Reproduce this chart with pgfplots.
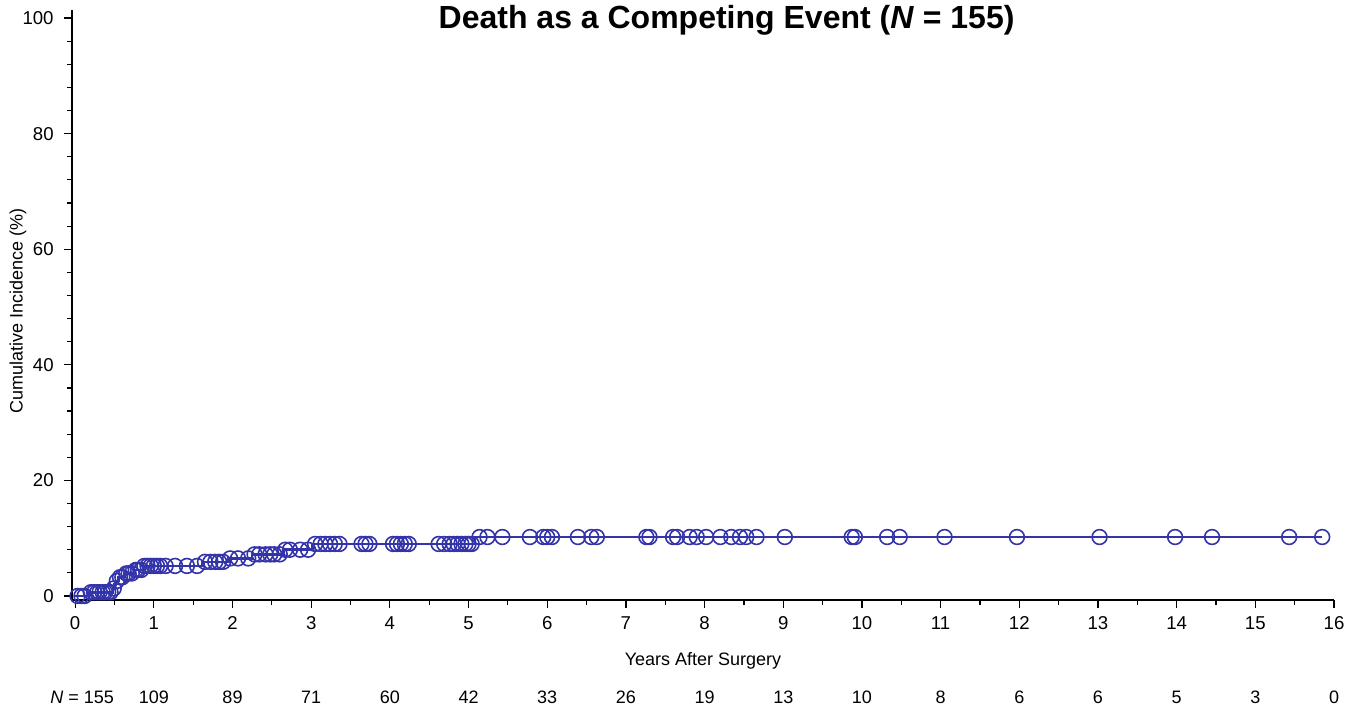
\documentclass[border=0pt]{standalone}
\usepackage{fontspec}
\setmainfont{Liberation Sans}
\usepackage{pgfplots}
\pgfplotsset{compat=1.18}
\definecolor{kmblue}{RGB}{51,51,170}

\begin{document}
\fontsize{9}{11}\selectfont
\begin{tikzpicture}
\useasboundingbox (0pt,0pt) rectangle (677pt,354.5pt);
\begin{axis}[
  at={(36pt,54.5pt)}, anchor=south west, scale only axis,
  width=631pt, height=295pt,
  xmin=-0.04, xmax=16, ymin=-0.7, ymax=101.4,
  axis x line*=bottom, axis y line*=left,
  axis line style={line width=0.9pt},
  every tick/.style={black, line width=0.6pt},
  tick align=outside,
  major tick length=4pt, minor tick length=2.5pt,
  xtick={0,1,...,16}, minor x tick num=1,
  ytick={0,20,...,100}, minor y tick num=4,
  /pgf/number format/assume math mode=true,
  tick label style={font=\fontsize{9.3}{11}\selectfont},
  xticklabel style={yshift=-1pt},
  yticklabel style={xshift=-2pt},
  xlabel={Years After Surgery},
  ylabel={Cumulative Incidence (\%)},
  label style={font=\fontsize{9}{11}\selectfont},
  xlabel style={at={(axis description cs:0.5,0)}, anchor=center, yshift=-30.5pt},
  ylabel style={at={(axis description cs:-0.0428,0.49)}, anchor=center},
  clip=false,
]
% cumulative incidence step curve
\addplot[const plot, kmblue, line width=1.3pt] coordinates {
  (0,0) (0.17,0.65) (0.48,1.3) (0.50,1.95) (0.52,2.6) (0.55,3.25)
  (0.63,3.9) (0.75,4.5) (0.86,5.2) (1.62,5.9) (1.95,6.5) (2.25,7.2)
  (2.65,8.0) (3.02,9.0) (5.08,10.2) (15.85,10.2)
};
% censored observations
\addplot[only marks, kmblue, mark=o, mark size=3.7pt, mark options={line width=0.8pt}] coordinates {
  (0.03,0) (0.08,0) (0.12,0)
  (0.20,0.65) (0.24,0.65) (0.28,0.65) (0.31,0.65) (0.35,0.65) (0.38,0.65) (0.42,0.65) (0.45,0.65)
  (0.49,1.3) (0.53,2.6) (0.57,3.25) (0.60,3.25)
  (0.65,3.9) (0.68,3.9) (0.72,3.9)
  (0.77,4.5) (0.80,4.5) (0.84,4.5)
  (0.88,5.2) (0.92,5.2) (0.96,5.2) (1.00,5.2) (1.04,5.2) (1.08,5.2) (1.15,5.2) (1.27,5.2) (1.42,5.2) (1.55,5.2)
  (1.65,5.9) (1.72,5.9) (1.78,5.9) (1.83,5.9) (1.88,5.9)
  (1.97,6.5) (2.07,6.5) (2.20,6.5)
  (2.28,7.2) (2.34,7.2) (2.42,7.2) (2.48,7.2) (2.53,7.2) (2.60,7.2)
  (2.67,8.0) (2.73,8.0) (2.86,8.0) (2.96,8.0)
  (3.05,9.0) (3.12,9.0) (3.18,9.0) (3.24,9.0) (3.30,9.0) (3.36,9.0)
  (3.64,9.0) (3.69,9.0) (3.74,9.0)
  (4.04,9.0) (4.09,9.0) (4.14,9.0) (4.19,9.0) (4.24,9.0)
  (4.62,9.0) (4.69,9.0) (4.76,9.0) (4.81,9.0) (4.86,9.0) (4.91,9.0) (4.96,9.0) (5.00,9.0) (5.04,9.0)
  (5.14,10.2) (5.24,10.2) (5.43,10.2) (5.78,10.2) (5.95,10.2) (6.00,10.2) (6.06,10.2)
  (6.39,10.2) (6.56,10.2) (6.63,10.2) (7.26,10.2) (7.30,10.2) (7.60,10.2) (7.65,10.2)
  (7.81,10.2) (7.90,10.2) (8.02,10.2) (8.20,10.2) (8.34,10.2) (8.45,10.2) (8.53,10.2) (8.66,10.2)
  (9.02,10.2) (9.87,10.2) (9.91,10.2) (10.32,10.2) (10.48,10.2) (11.05,10.2) (11.97,10.2)
  (13.02,10.2) (13.98,10.2) (14.45,10.2) (15.43,10.2) (15.85,10.2)
};
% title
\node[font=\fontsize{16}{19}\selectfont\bfseries] at (axis cs:8.28,99.7) {Death as a Competing Event (\textit{N} = 155)};
% numbers at risk
\node at (axis cs:0.09,-0.7) [yshift=-48.5pt] {\textit{N} = 155};
\node at (axis cs:1,-0.7) [yshift=-48.5pt] {109};
\node at (axis cs:2,-0.7) [yshift=-48.5pt] {89};
\node at (axis cs:3,-0.7) [yshift=-48.5pt] {71};
\node at (axis cs:4,-0.7) [yshift=-48.5pt] {60};
\node at (axis cs:5,-0.7) [yshift=-48.5pt] {42};
\node at (axis cs:6,-0.7) [yshift=-48.5pt] {33};
\node at (axis cs:7,-0.7) [yshift=-48.5pt] {26};
\node at (axis cs:8,-0.7) [yshift=-48.5pt] {19};
\node at (axis cs:9,-0.7) [yshift=-48.5pt] {13};
\node at (axis cs:10,-0.7) [yshift=-48.5pt] {10};
\node at (axis cs:11,-0.7) [yshift=-48.5pt] {8};
\node at (axis cs:12,-0.7) [yshift=-48.5pt] {6};
\node at (axis cs:13,-0.7) [yshift=-48.5pt] {6};
\node at (axis cs:14,-0.7) [yshift=-48.5pt] {5};
\node at (axis cs:15,-0.7) [yshift=-48.5pt] {3};
\node at (axis cs:16,-0.7) [yshift=-48.5pt] {0};
\end{axis}
\end{tikzpicture}
\end{document}
